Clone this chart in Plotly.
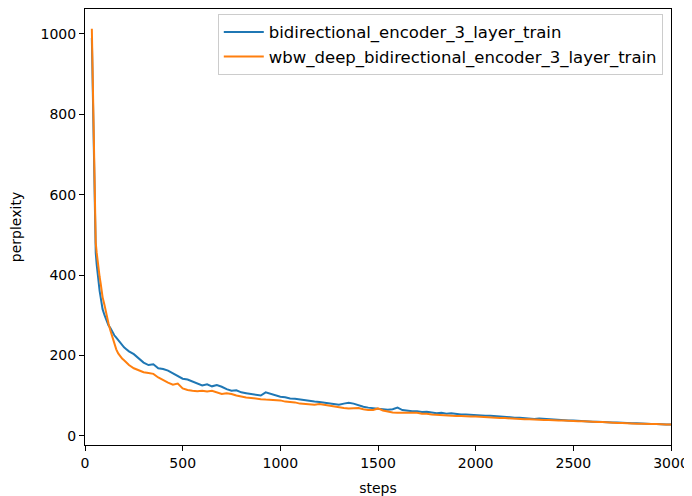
import plotly.graph_objects as go

steps_early = [35, 40, 45, 50, 55, 60, 65, 70, 75, 80, 85, 90, 100, 110, 120, 130, 140, 150,
               160, 170, 180, 190, 200, 210]
blue_early = [990, 850, 680, 500, 455, 425, 400, 380, 360, 345, 325, 315, 300, 287, 275, 268,
              258, 250, 244, 238, 230, 225, 220, 216]
orange_early = [1013, 870, 700, 520, 480, 455, 430, 410, 395, 380, 360, 345, 325, 297, 280, 262,
                245, 228, 215, 205, 198, 192, 188, 183]

steps_late = list(range(225, 3001, 25))
blue_late = [210, 203, 192, 182, 176, 178, 168, 166, 162, 156, 148, 142, 140, 135, 128, 125,
             128, 123, 126, 122, 116, 112, 113, 108, 106, 104, 101, 100, 108, 104, 100, 97,
             96, 93, 92, 90, 88, 86, 85, 84, 82, 81, 78, 77, 80, 82, 80, 75,
             72, 70, 68, 67, 66, 65, 66, 70, 64, 62, 61, 61, 59, 60, 58, 56,
             57, 55, 56, 54, 53, 53, 52, 51, 50, 50, 50, 49, 48, 46, 46, 45,
             45, 44, 43, 42, 43, 42, 41, 40, 39, 39, 38, 38, 37, 36, 36, 35,
             35, 34, 34, 33, 33, 32, 32, 31, 31, 30, 29, 29, 29, 28, 28, 28]
orange_late = [176, 168, 162, 158, 156, 154, 145, 138, 132, 127, 130, 118, 114, 112, 111, 112,
               110, 112, 108, 104, 106, 104, 100, 97, 95, 94, 92, 91, 90, 89, 89, 88,
               85, 84, 83, 80, 79, 78, 77, 79, 77, 75, 73, 70, 69, 68, 68, 69,
               66, 64, 64, 68, 63, 60, 58, 57, 57, 57, 56, 57, 55, 55, 53, 52,
               51, 50, 49, 49, 49, 48, 48, 48, 47, 46, 46, 45, 44, 44, 43, 43,
               42, 41, 41, 40, 40, 39, 39, 38, 38, 38, 37, 37, 36, 36, 35, 35,
               34, 34, 33, 33, 32, 32, 31, 31, 30, 30, 29, 29, 29, 28, 28, 28]

steps = steps_early + steps_late
blue = blue_early + blue_late
orange = orange_early + orange_late

x_ticks = [0, 500, 1000, 1500, 2000, 2500, 3000]
y_ticks = [0, 200, 400, 600, 800, 1000]

FONT = "DejaVu Sans"
fig = go.Figure()
fig.add_trace(go.Scatter(x=steps, y=blue, mode="lines",
                         name="bidirectional_encoder_3_layer_train",
                         line=dict(color="#1f77b4", width=2)))
fig.add_trace(go.Scatter(x=steps, y=orange, mode="lines",
                         name="wbw_deep_bidirectional_encoder_3_layer_train",
                         line=dict(color="#ff7f0e", width=2)))

axis_common = dict(showline=True, linecolor="black", linewidth=1, mirror=True,
                   ticks="outside", ticklen=5, tickwidth=1, tickcolor="black",
                   showgrid=False, zeroline=False, automargin=False,
                   tickfont=dict(family=FONT, size=14, color="black"))
fig.update_layout(
    width=684, height=488,
    margin=dict(l=77, r=21, t=1, b=51),
    plot_bgcolor="white", paper_bgcolor="white",
    font=dict(family=FONT, size=14, color="black"),
    xaxis=dict(range=[0, 3000], tickvals=x_ticks,
               title=dict(text="steps", font=dict(family=FONT, size=14)),
               **axis_common),
    yaxis=dict(range=[-23, 1062], tickvals=y_ticks,
               title=dict(text="perplexity", font=dict(family=FONT, size=14)),
               **axis_common),
    legend=dict(x=0.986, y=0.989, xanchor="right", yanchor="top",
                bgcolor="rgba(255,255,255,0.8)", bordercolor="#cccccc", borderwidth=1,
                font=dict(family=FONT, size=16.5, color="black"),
                itemwidth=40, tracegroupgap=0),
    showlegend=True,
)
fig.write_html("out.html")
